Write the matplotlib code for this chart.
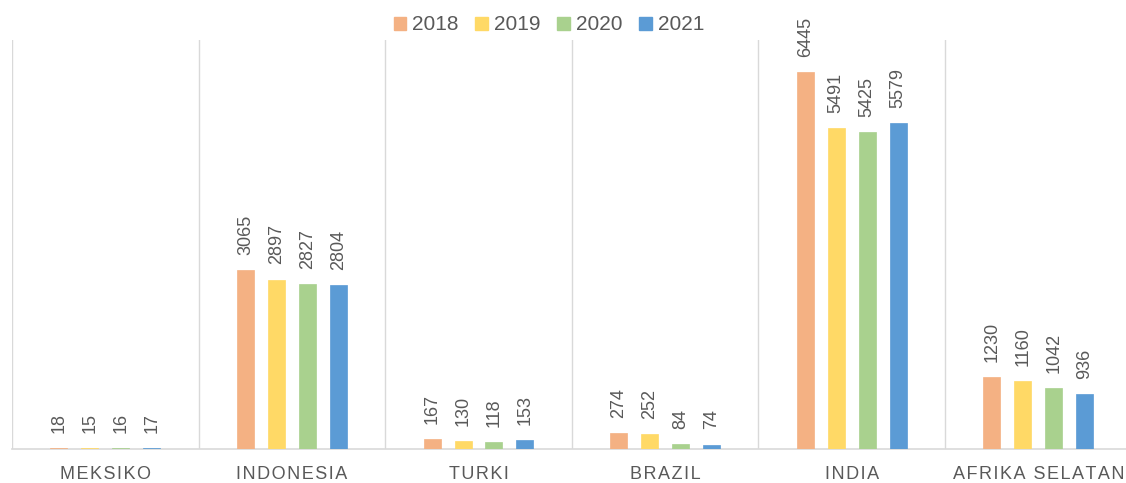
import matplotlib
matplotlib.use("Agg")
import matplotlib.pyplot as plt
from matplotlib.patches import Patch
import numpy as np

categories = ["MEKSIKO", "INDONESIA", "TURKI", "BRAZIL", "INDIA", "AFRIKA SELATAN"]
series_names = ["2018", "2019", "2020", "2021"]
v2018 = [18, 3065, 167, 274, 6445, 1230]
v2019 = [15, 2897, 130, 252, 5491, 1160]
v2020 = [16, 2827, 118, 84, 5425, 1042]
v2021 = [17, 2804, 153, 74, 5579, 936]
series_values = [v2018, v2019, v2020, v2021]
colors = ["#F4B183", "#FFD966", "#A9D18E", "#5B9BD5"]

txt_color = "#595959"
grid_color = "#D9D9D9"
fam = ["Liberation Sans", "DejaVu Sans"]

fig = plt.figure(figsize=(11.26, 4.83), dpi=100)
ax = fig.add_axes([12/1126, 34/483, 1119.6/1126, 409/483])

n = len(categories)
x = np.arange(n)
offsets = np.array([-1.5, -0.5, 0.5, 1.5]) * 0.166
width = 0.091

for i, (vals, c) in enumerate(zip(series_values, colors)):
    bars = ax.bar(x + offsets[i], vals, width=width, color=c, edgecolor=c, linewidth=0.5, zorder=3)
    for xi, v in zip(x + offsets[i], vals):
        ax.annotate(str(v), xy=(xi, v), xytext=(0, 11), textcoords="offset points",
                    rotation=90, ha="center", va="bottom", fontsize=13,
                    color=txt_color, family=fam)

ax.set_xlim(-0.5, n - 0.5)
ax.set_ylim(0, 7000)

for b in np.arange(n + 1) - 0.5:
    ax.axvline(b, color=grid_color, linewidth=1, zorder=1)

for s in ["top", "right", "left"]:
    ax.spines[s].set_visible(False)
ax.spines["bottom"].set_color(grid_color)
ax.spines["bottom"].set_linewidth(1.2)
ax.set_yticks([])
ax.set_xticks(x)
spaced = ["\u200a".join(list(c)) for c in categories]
ax.set_xticklabels(spaced, fontsize=13, color=txt_color, family=fam)
ax.tick_params(axis="x", length=0, pad=12)

handles = [Patch(facecolor=c, edgecolor=c, label=s) for s, c in zip(series_names, colors)]
leg = fig.legend(handles=handles, loc="center", bbox_to_anchor=(549/1126, 1 - 25/483),
                 ncol=4, frameon=False, fontsize=15, handlelength=0.6, handleheight=0.6,
                 handletextpad=0.3, columnspacing=0.8, prop={"family": fam, "size": 15})
for t in leg.get_texts():
    t.set_color(txt_color)

fig.savefig("out.png", dpi=100)
